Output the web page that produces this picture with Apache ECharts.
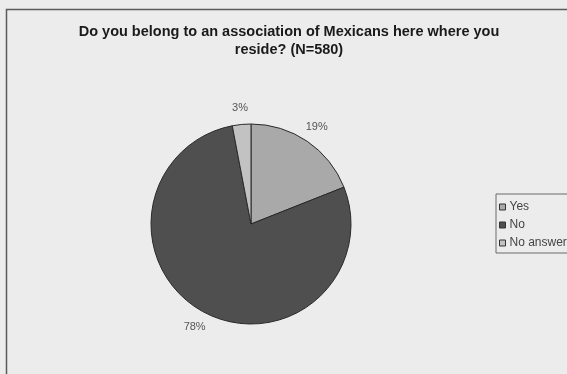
<!DOCTYPE html>
<html>
<head>
<meta charset="utf-8">
<script src="https://cdn.jsdelivr.net/npm/echarts@6/dist/echarts.min.js"></script>
<style>
  html, body { margin: 0; padding: 0; background: #ececec; }
  #chart { width: 567px; height: 374px; }
</style>
</head>
<body>
<div id="chart"></div>
<script>
// Survey answers, percent of respondents (N=580)
const categories = ['Yes', 'No', 'No answer'];
const shares = [19, 78, 3];
const sliceColors = ['#a9a9a9', '#4f4f4f', '#c2c2c2'];
const titleText = 'Do you belong to an association of Mexicans here where you\nreside? (N=580)';

const FONT = 'Liberation Sans, Arial, sans-serif';
const PIE_CENTER = [251, 224];
const PIE_RADIUS = 100;
const LABEL_RADIUS = 114;

const chart = echarts.init(document.getElementById('chart'), null, { renderer: 'canvas' });

const pieData = categories.map((name, i) => ({
  name,
  value: shares[i],
  itemStyle: { color: sliceColors[i] }
}));

chart.setOption({
  backgroundColor: '#ececec',
  animation: false,
  graphic: [{
    type: 'rect',
    shape: { x: 6.5, y: 9.5, width: 620, height: 420 },
    style: { fill: 'none', stroke: '#5a5a5a', lineWidth: 1.5 },
    z: 0
  }],
  title: {
    text: titleText,
    left: 284,
    top: 18,
    textAlign: 'center',
    textStyle: {
      fontFamily: FONT,
      fontSize: 14.5,
      fontWeight: 'bold',
      color: '#1a1a1a',
      lineHeight: 18
    }
  },
  legend: {
    orient: 'vertical',
    left: 496,
    top: 194,
    padding: [4, 10, 1, 3],
    borderColor: '#6a6a6a',
    borderWidth: 1,
    backgroundColor: '#ececec',
    icon: 'rect',
    itemWidth: 6,
    itemHeight: 6,
    itemGap: 0,
    data: categories,
    itemStyle: { borderColor: '#333', borderWidth: 1 },
    textStyle: {
      fontFamily: FONT,
      fontSize: 12,
      color: '#444',
      lineHeight: 18,
      padding: [0, 0, 0, -1]
    }
  },
  series: [{
    // the visible pie
    type: 'pie',
    center: PIE_CENTER,
    radius: PIE_RADIUS,
    startAngle: 90,
    clockwise: true,
    silent: true,
    data: pieData,
    itemStyle: { borderColor: '#2a2a2a', borderWidth: 1 },
    label: { show: false },
    labelLine: { show: false }
  }, {
    // transparent companion pie: its centred "inside" labels sit at LABEL_RADIUS
    type: 'pie',
    center: PIE_CENTER,
    radius: LABEL_RADIUS * 2,
    startAngle: 90,
    clockwise: true,
    silent: true,
    legendHoverLink: false,
    data: categories.map((name, i) => ({ name, value: shares[i] })),
    itemStyle: { color: 'rgba(0,0,0,0)', borderWidth: 0 },
    label: {
      show: true,
      position: 'inside',
      formatter: '{c}%',
      fontFamily: FONT,
      fontSize: 11,
      color: '#555'
    },
    labelLine: { show: false },
    z: 3
  }]
});
</script>
</body>
</html>
